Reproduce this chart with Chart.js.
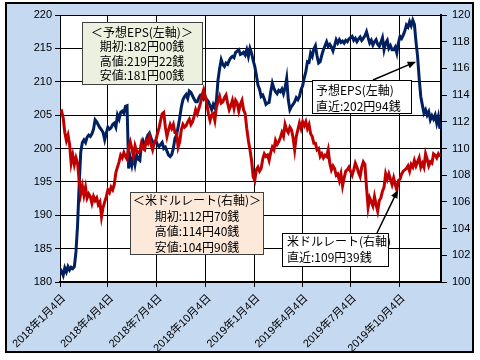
<!DOCTYPE html>
<html>
<head>
<meta charset="utf-8">
<script src="https://cdn.jsdelivr.net/npm/chart.js@4"></script>
<style>
  html, body { margin: 0; padding: 0; background: #fff; }
</style>
</head>
<body>
<canvas id="chart" width="480" height="360"></canvas>
<script>
// dates of the readings (every few days)
const dates = [
  '2018/1/4','2018/1/7','2018/1/10','2018/1/13','2018/1/16','2018/1/19','2018/1/22','2018/1/25','2018/1/28','2018/1/31',
  '2018/2/3','2018/2/6','2018/2/9','2018/2/12','2018/2/15','2018/2/18','2018/2/21','2018/2/24','2018/2/27',
  '2018/3/2','2018/3/5','2018/3/8','2018/3/11','2018/3/14','2018/3/17','2018/3/20','2018/3/23','2018/3/26','2018/3/29',
  '2018/4/1','2018/4/4','2018/4/7','2018/4/10','2018/4/13','2018/4/16','2018/4/19','2018/4/22','2018/4/25','2018/4/28',
  '2018/5/1','2018/5/4','2018/5/7','2018/5/10','2018/5/13','2018/5/16','2018/5/19','2018/5/22','2018/5/25','2018/5/28','2018/5/31',
  '2018/6/3','2018/6/6','2018/6/9','2018/6/12','2018/6/15','2018/6/18','2018/6/21','2018/6/24','2018/6/27','2018/6/30',
  '2018/7/3','2018/7/6','2018/7/9','2018/7/12','2018/7/15','2018/7/18','2018/7/21','2018/7/24','2018/7/27','2018/7/30',
  '2018/8/2','2018/8/5','2018/8/8','2018/8/11','2018/8/14','2018/8/17','2018/8/20','2018/8/23','2018/8/26','2018/8/29',
  '2018/9/1','2018/9/4','2018/9/7','2018/9/10','2018/9/13','2018/9/16','2018/9/19','2018/9/22','2018/9/25','2018/9/28',
  '2018/10/1','2018/10/4','2018/10/7','2018/10/10','2018/10/13','2018/10/16','2018/10/19','2018/10/22','2018/10/25','2018/10/28','2018/10/31',
  '2018/11/3','2018/11/6','2018/11/9','2018/11/12','2018/11/15','2018/11/18','2018/11/21','2018/11/24','2018/11/27','2018/11/30',
  '2018/12/3','2018/12/6','2018/12/9','2018/12/12','2018/12/15','2018/12/18','2018/12/21','2018/12/24','2018/12/27','2018/12/30',
  '2019/1/2','2019/1/5','2019/1/8','2019/1/11','2019/1/14','2019/1/17','2019/1/20','2019/1/23','2019/1/26','2019/1/29',
  '2019/2/1','2019/2/4','2019/2/7','2019/2/10','2019/2/13','2019/2/16','2019/2/19','2019/2/22','2019/2/25','2019/2/28',
  '2019/3/3','2019/3/6','2019/3/9','2019/3/12','2019/3/15','2019/3/18','2019/3/21','2019/3/24','2019/3/27','2019/3/30',
  '2019/4/2','2019/4/5','2019/4/8','2019/4/11','2019/4/14','2019/4/17','2019/4/20','2019/4/23','2019/4/26','2019/4/29',
  '2019/5/2','2019/5/5','2019/5/8','2019/5/11','2019/5/14','2019/5/17','2019/5/20','2019/5/23','2019/5/26','2019/5/29',
  '2019/6/1','2019/6/4','2019/6/7','2019/6/10','2019/6/13','2019/6/16','2019/6/19','2019/6/22','2019/6/25','2019/6/28',
  '2019/7/1','2019/7/4','2019/7/7','2019/7/10','2019/7/13','2019/7/16','2019/7/19','2019/7/22','2019/7/25','2019/7/28','2019/7/31',
  '2019/8/3','2019/8/6','2019/8/9','2019/8/12','2019/8/15','2019/8/18','2019/8/21','2019/8/24','2019/8/27','2019/8/30',
  '2019/9/2','2019/9/5','2019/9/8','2019/9/11','2019/9/14','2019/9/17','2019/9/20','2019/9/23','2019/9/26','2019/9/29',
  '2019/10/2','2019/10/5','2019/10/8','2019/10/11','2019/10/14','2019/10/17','2019/10/20','2019/10/23','2019/10/26','2019/10/29',
  '2019/11/1','2019/11/4','2019/11/7','2019/11/10','2019/11/13','2019/11/16','2019/11/19','2019/11/22','2019/11/25','2019/11/28',
  '2019/12/1','2019/12/4','2019/12/7','2019/12/10','2019/12/13','2019/12/16','2019/12/19'
];

// 予想EPS (left axis, yen)
const epsValues = [
  182.0,181.6,181.0,182.1,181.5,182.3,181.8,182.2,182.0,182.3,
  184.5,188.5,194.5,199.5,200.9,201.3,200.9,201.7,202.0,
  201.8,202.2,202.9,204.3,204.0,203.5,203.1,202.8,202.4,201.3,
  202.3,203.2,202.9,203.1,203.6,203.8,203.2,205.0,204.4,205.4,
  205.6,205.3,206.3,206.4,197.0,198.6,197.5,198.9,197.6,199.0,198.4,
  198.2,200.5,201.2,200.6,200.8,202.0,202.3,201.6,201.0,200.8,
  201.2,200.6,200.3,200.6,200.9,200.0,200.2,199.6,199.0,198.8,
  199.1,200.0,201.5,202.0,203.2,204.6,206.2,207.3,207.8,208.1,
  207.5,208.6,208.4,207.9,207.4,207.0,207.0,207.6,208.0,208.0,
  207.4,207.7,207.3,207.0,206.4,205.8,206.6,206.1,207.2,210.3,212.0,
  213.3,212.6,212.3,212.8,212.6,213.2,213.6,213.8,213.6,214.4,
  214.6,214.8,214.1,214.2,214.4,214.0,214.8,213.8,215.0,214.3,
  213.2,212.3,211.0,209.5,208.9,207.8,208.0,207.4,206.6,206.8,
  206.9,208.5,209.8,209.0,208.5,208.2,208.7,208.5,208.9,208.2,
  209.1,210.5,207.3,205.8,206.3,206.6,207.0,207.6,207.3,207.8,
  208.8,209.4,210.6,211.5,213.0,212.9,214.3,213.8,214.9,215.4,
  213.9,212.8,213.0,214.0,214.8,215.4,216.0,215.3,215.6,215.2,
  214.6,215.4,216.3,215.8,216.3,215.9,216.1,215.8,216.2,216.0,
  216.4,216.6,216.8,216.2,216.5,216.0,216.4,216.7,216.2,216.5,216.9,
  217.5,216.6,215.8,216.2,215.5,216.0,216.3,215.6,215.3,215.9,
  216.6,214.8,215.8,216.2,215.0,215.4,214.8,214.8,215.2,214.3,
  215.8,216.8,216.5,217.0,217.6,218.5,218.2,219.0,218.4,219.22,
  218.6,216.0,213.8,210.5,207.8,206.5,205.3,205.8,205.0,205.5,
  204.3,204.9,204.4,205.0,203.8,204.8,202.94
];

// 米ドルレート (right axis, yen per dollar)
const usdValues = [
  112.70,112.8,112.3,111.2,110.6,111.0,110.3,108.9,109.5,108.8,
  109.3,108.9,107.6,106.6,107.2,106.5,107.1,106.3,106.6,
  106.4,105.9,106.4,106.1,106.3,105.8,106.0,104.9,105.6,106.0,
  106.4,106.9,106.7,107.1,106.9,107.3,108.2,108.6,109.0,109.5,
  109.3,109.7,109.4,109.2,110.1,110.5,110.0,109.4,110.2,109.8,109.7,
  109.8,110.4,110.0,109.9,110.6,110.4,110.9,110.3,109.9,110.4,
  110.6,111.1,111.5,112.1,112.6,112.7,111.6,110.9,111.4,111.8,
  111.5,111.8,111.2,111.2,110.1,110.5,111.4,111.8,111.6,111.7,
  112.0,112.2,111.8,112.0,112.4,112.9,112.6,113.0,113.4,114.0,
  114.4,113.9,113.3,112.6,112.1,112.5,112.6,112.1,113.1,113.5,113.9,
  113.4,113.5,113.8,114.0,113.4,112.9,113.2,113.6,113.0,113.6,
  113.4,112.8,113.3,113.6,112.9,112.6,111.5,110.6,109.9,109.1,
  107.9,107.6,108.4,108.6,108.3,108.5,109.2,109.6,109.4,109.5,
  109.1,109.7,110.1,109.9,110.6,110.3,110.5,110.8,111.2,110.9,
  111.8,111.4,111.2,111.6,111.4,110.8,109.9,110.9,111.4,111.9,
  111.5,112.0,111.7,112.0,111.5,111.8,111.1,110.9,110.4,110.4,
  109.9,110.0,109.4,109.6,109.3,109.5,109.4,109.9,108.9,108.4,
  108.7,108.5,108.0,108.1,107.6,108.1,107.2,107.8,108.3,108.4,
  108.6,108.3,108.0,108.4,108.9,108.6,108.2,107.9,108.6,109.0,108.8,
  107.1,105.6,106.3,106.0,105.7,106.4,105.8,105.3,106.1,106.3,
  106.8,107.1,108.1,107.7,108.1,107.7,107.3,107.8,107.3,106.9,
  107.6,107.7,108.1,108.3,108.4,108.5,108.7,108.3,108.8,108.6,
  109.1,108.7,109.0,109.3,108.6,108.9,108.6,109.6,109.2,108.7,
  109.0,108.9,109.6,109.5,109.3,109.6,109.39
];

const tickDates = ['2018/1/4','2018/4/4','2018/7/4','2018/10/4','2019/1/4','2019/4/4','2019/7/4','2019/10/4'];
const tickLabels = ['2018年1月4日','2018年4月4日','2018年7月4日','2018年10月4日','2019年1月4日','2019年4月4日','2019年7月4日','2019年10月4日'];
const lastDate = '2019/12/21';

const epsBoxText = ['＜予想EPS(左軸)＞', '期初:182円00銭', '高値:219円22銭', '安値:181円00銭'];
const usdBoxText = ['＜米ドルレート(右軸)＞', '期初:112円70銭', '高値:114円40銭', '安値:104円90銭'];
const epsLatestText = ['予想EPS(左軸)', '直近:202円94銭'];
const usdLatestText = ['米ドルレート(右軸)', '直近:109円39銭'];

function dayNum(s) {
  const [y, m, d] = s.split('/').map(Number);
  return (Date.UTC(y, m - 1, d) - Date.UTC(2018, 0, 4)) / 86400000;
}

const tickDays = tickDates.map(dayNum);
const jpFont = '"Noto Sans CJK JP", sans-serif';
const tickFont = { family: '"Liberation Sans", Arial, "Noto Sans CJK JP", sans-serif', size: 11 };

function drawBox(ctx, x, y, w, h, fill, stroke) {
  ctx.fillStyle = fill;
  ctx.fillRect(x, y, w, h);
  ctx.strokeStyle = stroke;
  ctx.lineWidth = 1;
  ctx.strokeRect(x + 0.5, y + 0.5, w - 1, h - 1);
}

function drawLines(ctx, lines, x, y0, dy, align) {
  ctx.fillStyle = '#000';
  ctx.font = '12px ' + jpFont;
  ctx.textAlign = align;
  ctx.textBaseline = 'middle';
  lines.forEach((t, i) => ctx.fillText(t, x, y0 + i * dy));
}

function drawArrow(ctx, x1, y1, x2, y2) {
  const a = Math.atan2(y2 - y1, x2 - x1);
  ctx.strokeStyle = '#000';
  ctx.fillStyle = '#000';
  ctx.lineWidth = 1.5;
  ctx.beginPath();
  ctx.moveTo(x1, y1);
  ctx.lineTo(x2 - 5 * Math.cos(a), y2 - 5 * Math.sin(a));
  ctx.stroke();
  ctx.beginPath();
  ctx.moveTo(x2, y2);
  ctx.lineTo(x2 - 9 * Math.cos(a - 0.4), y2 - 9 * Math.sin(a - 0.4));
  ctx.lineTo(x2 - 9 * Math.cos(a + 0.4), y2 - 9 * Math.sin(a + 0.4));
  ctx.closePath();
  ctx.fill();
}

const frame = {
  id: 'frame',
  beforeDraw(chart) {
    const ctx = chart.ctx;
    const a = chart.chartArea;
    ctx.save();
    ctx.fillStyle = '#fff';
    ctx.fillRect(0, 0, chart.width, chart.height);
    ctx.fillStyle = '#c5d9f1';
    ctx.fillRect(5, 2, 469, 351);
    ctx.strokeStyle = '#000';
    ctx.lineWidth = 2;
    ctx.strokeRect(6, 3, 467, 349);
    ctx.fillStyle = '#fff';
    ctx.fillRect(a.left, a.top, a.right - a.left, a.bottom - a.top);
    ctx.restore();
  },
  afterDraw(chart) {
    const ctx = chart.ctx;
    const sx = chart.scales.x, yl = chart.scales.y, yr = chart.scales.y2;
    ctx.save();
    drawBox(ctx, 82, 22, 121, 63, '#ebf1de', '#404040');
    drawLines(ctx, epsBoxText, 142, 32, 14.6, 'center');
    drawBox(ctx, 130, 192, 134, 63, '#fde9d9', '#404040');
    drawLines(ctx, usdBoxText, 197, 200.5, 15.5, 'center');
    drawBox(ctx, 312, 80, 100, 34, '#fff', '#000');
    drawLines(ctx, epsLatestText, 316, 90.5, 16, 'left');
    drawBox(ctx, 282, 233, 107, 34, '#fff', '#000');
    drawLines(ctx, usdLatestText, 287, 241.5, 16, 'left');
    drawArrow(ctx, 373, 80, sx.getPixelForValue(dayNum('2019/11/4')), yl.getPixelForValue(213));
    drawArrow(ctx, 377, 233, sx.getPixelForValue(dayNum('2019/10/1')), yr.getPixelForValue(106.9));
    ctx.restore();
  }
};

const days = dates.map(dayNum);

new Chart(document.getElementById('chart'), {
  type: 'line',
  data: {
    datasets: [
      {
        label: '米ドルレート(右軸)',
        data: days.map((d, i) => ({ x: d, y: usdValues[i] })),
        yAxisID: 'y2',
        borderColor: '#c00000',
        borderWidth: 3,
        pointRadius: 0,
        tension: 0
      },
      {
        label: '予想EPS(左軸)',
        data: days.map((d, i) => ({ x: d, y: epsValues[i] })),
        yAxisID: 'y',
        borderColor: '#002060',
        borderWidth: 3,
        pointRadius: 0,
        tension: 0
      }
    ]
  },
  options: {
    responsive: false,
    animation: false,
    events: [],
    layout: { padding: { left: 5, right: 5, top: 15, bottom: 5 } },
    plugins: { legend: { display: false }, tooltip: { enabled: false } },
    scales: {
      x: {
        type: 'linear',
        min: 0,
        max: dayNum(lastDate),
        afterBuildTicks: s => { s.ticks = tickDays.map(v => ({ value: v })); },
        afterFit: s => { s.height = 73; },
        ticks: {
          autoSkip: false,
          minRotation: 45,
          maxRotation: 45,
          padding: 5,
          labelOffset: 4,
          color: '#000',
          font: tickFont,
          callback: v => {
            const i = tickDays.indexOf(v);
            return i >= 0 ? tickLabels[i] : '';
          }
        },
        grid: { color: '#000', lineWidth: 1, tickLength: 5 },
        border: { color: '#000', width: 2 }
      },
      y: {
        position: 'left',
        min: 180,
        max: 220,
        afterFit: s => { s.width = 55; },
        ticks: { stepSize: 5, padding: 3, color: '#000', font: tickFont },
        grid: { color: '#000', lineWidth: 1, tickLength: 5 },
        border: { color: '#000', width: 1 }
      },
      y2: {
        position: 'right',
        min: 100,
        max: 120,
        afterFit: s => { s.width = 34; },
        ticks: { stepSize: 2, padding: 5, color: '#000', font: tickFont },
        grid: { drawOnChartArea: false, color: '#000', tickLength: 6 },
        border: { color: '#000', width: 2 }
      }
    }
  },
  plugins: [frame]
});
</script>
</body>
</html>
